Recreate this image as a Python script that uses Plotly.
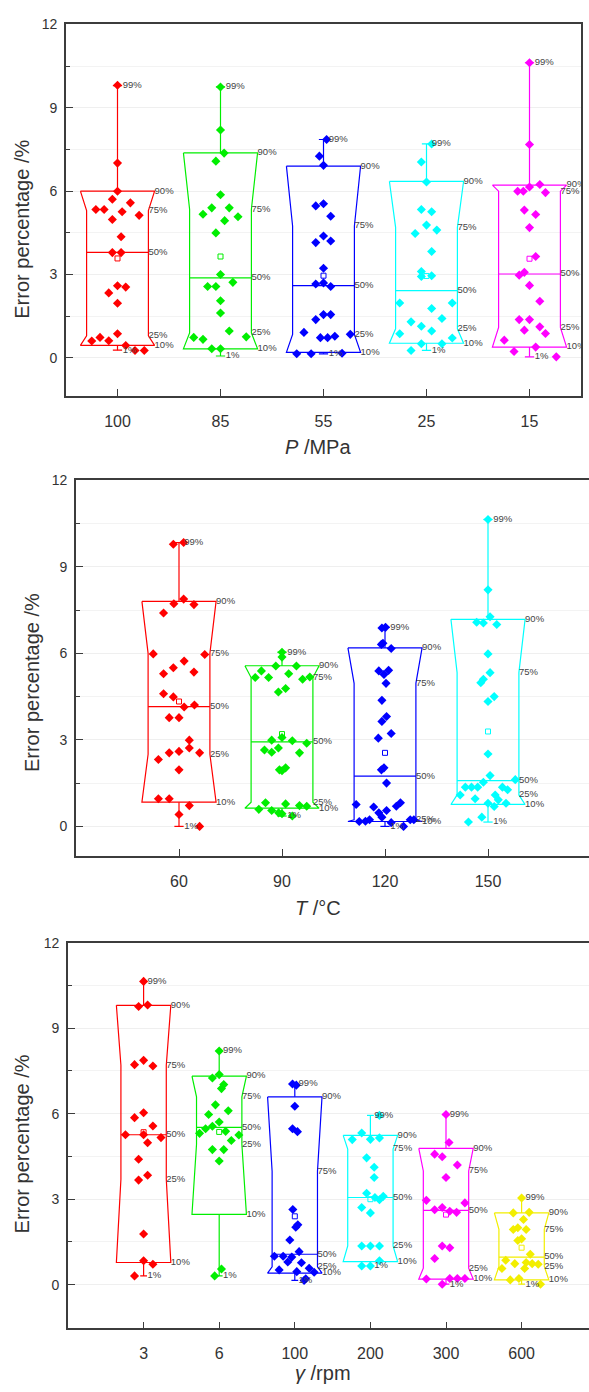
import plotly.graph_objects as go

W, H = 589, 1392
FONT = "Arial, Liberation Sans, sans-serif"

# ---------------- Panel 1 : P / MPa ----------------
P_CATS = ["100", "85", "55", "25", "15"]
P_COLORS = ["#FF0000", "#00EE00", "#0000FF", "#00FFFF", "#FF00FF"]
P_P1 = [0.28, 0.07, 0.15, 0.27, 0.04]
P_P10 = [0.45, 0.33, 0.20, 0.53, 0.39]
P_P25 = [0.80, 0.90, 0.85, 1.05, 1.10]
P_P50 = [3.80, 2.88, 2.60, 2.42, 3.02]
P_P75 = [5.30, 5.35, 4.75, 4.70, 6.00]
P_P90 = [6.00, 7.38, 6.90, 6.35, 6.22]
P_P99 = [9.80, 9.75, 7.86, 7.70, 10.62]
P_MEAN = [3.58, 3.65, 2.96, 2.95, 3.57]

P100_Y = [9.81, 7.01, 6.0, 5.71, 5.34, 5.34, 5.58, 5.26, 4.98, 5.13, 4.36, 3.79, 3.79, 2.6, 2.55, 2.34, 1.97, 0.87, 0.61, 0.74, 0.62, 0.45, 0.27, 0.27]
P100_DX = [0, 0, 0, -0.05, -0.21, -0.13, 0.125, 0.045, -0.05, 0.21, 0.035, -0.05, 0.035, 0, 0.08, -0.085, 0, 0, -0.25, -0.17, -0.085, 0.08, 0.17, 0.26]
P85_Y = [9.75, 8.2, 7.37, 7.08, 5.87, 5.4, 5.17, 5.4, 5.08, 4.94, 4.5, 3.0, 2.57, 2.57, 2.72, 2.06, 1.62, 0.97, 0.74, 0.67, 0.76, 0.33, 0.33]
P85_DX = [0, 0, 0.035, -0.045, 0, -0.085, -0.17, 0.085, 0.17, 0.04, -0.045, 0, -0.125, -0.045, 0.12, 0, 0, 0.085, -0.26, -0.17, 0.25, -0.085, 0]
P55_Y = [7.86, 7.26, 6.93, 5.47, 5.55, 5.1, 4.15, 4.39, 4.21, 3.23, 2.66, 2.7, 2.57, 1.38, 1.56, 1.56, 0.92, 0.73, 0.73, 0.78, 0.85, 0.15, 0.15, 0.17]
P55_DX = [0.03, -0.04, 0, -0.075, 0, 0.07, -0.075, 0, 0.07, 0, -0.075, 0, 0.07, -0.075, 0, 0.07, -0.19, -0.03, 0.04, 0.11, 0.26, -0.26, -0.12, 0.18]
P25_Y = [7.7, 7.05, 6.33, 5.34, 5.26, 4.78, 4.48, 4.6, 3.83, 3.11, 2.93, 2.96, 1.98, 1.98, 1.78, 1.3, 1.42, 1.14, 0.97, 0.87, 0.72, 0.51, 0.51, 0.27]
P25_DX = [0.05, -0.05, 0, -0.05, 0.05, 0, -0.11, 0.1, 0.05, -0.05, -0.05, 0.05, -0.26, 0.25, 0.05, -0.15, 0.15, -0.05, 0.05, -0.26, 0.25, -0.05, 0.15, -0.15]
P15_Y = [10.62, 7.68, 6.15, 6.24, 6.0, 6.0, 5.95, 5.32, 5.16, 4.69, 3.65, 2.98, 3.08, 2.61, 2.04, 1.38, 1.38, 1.0, 1.12, 0.88, 0.64, 0.23, 0.39, 0.04]
P15_DX = [0, 0, 0, 0.1, -0.115, -0.06, 0.155, -0.05, 0.06, 0, 0.06, -0.1, -0.05, 0, 0.1, -0.1, 0, -0.05, 0.1, 0.155, -0.245, -0.15, 0.06, 0.26]

# ---------------- Panel 2 : T / °C ----------------
T_CATS = ["60", "90", "120", "150"]
T_COLORS = ["#FF0000", "#00EE00", "#0000FF", "#00FFFF"]
T_P1 = [0.0, 0.36, 0.0, 0.15]
T_P10 = [0.84, 0.63, 0.17, 0.76]
T_P25 = [2.50, 0.84, 0.23, 1.09]
T_P50 = [4.15, 2.93, 1.74, 1.59]
T_P75 = [6.00, 5.16, 4.96, 5.33]
T_P90 = [7.80, 5.57, 6.19, 7.18]
T_P99 = [9.84, 6.04, 6.90, 10.64]
T_MEAN = [4.33, 3.20, 2.55, 3.29]

T60_Y = [9.78, 9.84, 7.72, 7.88, 7.69, 7.4, 5.98, 5.96, 5.29, 5.5, 5.73, 5.35, 4.6, 4.49, 4.14, 4.21, 3.77, 3.77, 2.99, 2.55, 2.6, 2.72, 2.55, 2.32, 1.96, 0.96, 0.96, 0.72, 0.41, 0.0]
T60_DX = [-0.055, 0.045, -0.05, 0.045, 0.145, -0.15, -0.25, 0.25, -0.15, -0.055, 0.05, 0.145, -0.15, -0.055, 0.05, 0.15, -0.095, 0, 0.1, -0.095, 0, 0.1, 0.2, -0.2, 0, -0.2, -0.095, 0.1, 0, 0.2]
T90_Y = [6.04, 5.87, 5.16, 5.39, 5.16, 5.56, 5.29, 5.56, 5.1, 5.18, 4.66, 4.78, 3.08, 2.99, 2.97, 2.88, 2.65, 2.57, 2.72, 2.55, 1.93, 2.03, 1.96, 0.59, 0.82, 0.55, 0.47, 0.44, 0.78, 0.72, 0.7, 0.36]
T90_DX = [0, 0, -0.26, -0.2, -0.13, -0.06, 0.065, 0.14, 0.2, 0.27, -0.035, 0.035, 0, -0.1, 0.1, 0.24, -0.17, -0.1, -0.035, 0.17, 0, 0.035, -0.025, -0.225, -0.16, -0.1, -0.033, 0, 0.035, 0.17, 0.24, 0.1]
T120_Y = [6.9, 6.88, 6.31, 6.35, 6.17, 5.39, 5.41, 5.27, 4.96, 4.37, 3.64, 3.81, 3.22, 3.06, 1.96, 2.03, 1.5, 0.76, 0.67, 0.47, 0.32, 0.55, 0.7, 0.82, 0.17, 0.18, 0.23, 0.13, 0.0, 0.23, 0.23]
T120_DX = [0.005, -0.03, -0.035, -0.02, 0.06, -0.06, 0.035, -0.01, 0.01, -0.03, -0.03, 0.015, 0.06, -0.065, -0.035, -0.01, 0.015, -0.28, -0.11, -0.06, -0.03, 0.015, 0.11, 0.15, -0.25, -0.19, -0.15, 0.06, 0.18, 0.245, 0.28]
T150_Y = [10.64, 8.2, 7.27, 7.05, 7.08, 7.0, 5.98, 5.33, 5.1, 4.98, 4.33, 4.5, 2.51, 1.76, 1.53, 1.62, 1.36, 1.36, 1.36, 1.36, 1.27, 1.09, 0.96, 1.09, 0.92, 0.8, 0.8, 0.69, 0.32, 0.15]
T150_DX = [0, 0, 0.02, -0.045, -0.11, 0.085, 0, 0.02, -0.045, -0.07, 0, 0.06, 0, 0.02, -0.045, 0.265, -0.22, -0.16, -0.1, 0.14, 0.19, -0.27, -0.125, 0.07, 0.1, 0, 0.175, 0.06, -0.06, -0.19]

# ---------------- Panel 3 : gamma / rpm ----------------
G_CATS = ["3", "6", "100", "200", "300", "600"]
G_COLORS = ["#FF0000", "#00EE00", "#0000FF", "#00FFFF", "#FF00FF", "#F2EE00"]
G_P1 = [0.31, 0.31, 0.15, 0.66, 0.02, 0.02]
G_P10 = [0.78, 2.47, 0.41, 0.81, 0.20, 0.17]
G_P25 = [3.70, 4.93, 0.63, 1.36, 0.58, 0.64]
G_P50 = [5.26, 5.52, 1.07, 3.06, 2.61, 0.97]
G_P75 = [7.70, 6.59, 3.98, 4.76, 3.99, 1.94]
G_P90 = [9.80, 7.32, 6.59, 5.24, 4.78, 2.52]
G_P99 = [10.64, 8.20, 7.06, 5.94, 5.97, 3.04]
G_MEAN = [5.35, 5.36, 2.40, 3.00, 2.46, 1.30]

G3_Y = [10.64, 9.76, 9.81, 7.72, 7.87, 7.67, 5.86, 6.03, 5.57, 5.26, 5.26, 5.16, 4.98, 4.4, 3.84, 3.67, 1.78, 0.84, 0.72, 0.31]
G3_DX = [0, -0.066, 0.053, -0.12, 0, 0.123, -0.12, 0, 0.123, -0.24, 0, 0.23, 0.053, -0.066, 0.053, -0.066, 0, 0, 0.123, -0.12]
G6_Y = [8.2, 7.25, 7.37, 7.02, 6.88, 6.31, 6.1, 5.97, 5.71, 5.56, 5.47, 5.31, 5.38, 5.25, 5.06, 4.74, 4.74, 4.34, 0.55, 0.31]
G6_DX = [0, -0.09, 0, 0.06, 0.03, -0.05, 0.12, -0.14, 0, -0.09, -0.18, -0.26, 0.085, 0.26, 0.16, -0.09, 0.06, 0, 0.03, -0.06]
G100_Y = [7.04, 7.0, 6.26, 5.47, 5.37, 2.64, 2.02, 2.1, 1.57, 1.16, 1.0, 1.0, 0.97, 0.8, 0.77, 0.52, 0.46, 0.58, 0.44, 0.21, 0.15]
G100_DX = [-0.03, 0.02, 0, -0.03, 0.035, -0.026, 0.013, 0.04, -0.066, 0.057, -0.27, -0.154, -0.04, -0.093, 0.088, -0.207, 0.026, 0.19, 0.256, 0.145, 0.123]
G200_Y = [5.94, 5.09, 5.32, 5.1, 5.15, 4.45, 4.12, 3.76, 3.21, 2.71, 2.52, 3.06, 3.1, 2.98, 1.36, 1.36, 1.36, 0.66, 0.66, 0.84]
G200_DX = [0.12, -0.24, -0.115, 0, 0.12, -0.05, 0.05, 0.05, -0.05, -0.115, 0, 0.06, 0.17, 0.12, -0.115, 0, 0.12, -0.115, 0, 0.12]
G300_Y = [5.97, 4.99, 4.58, 4.49, 4.2, 3.76, 2.96, 2.87, 2.63, 2.71, 2.58, 2.54, 1.36, 1.3, 0.92, 0.2, 0.02, 0.22, 0.22, 0.22]
G300_DX = [0, 0.04, -0.15, -0.05, 0.15, 0, -0.26, 0.25, -0.15, -0.05, 0.05, 0.14, -0.05, 0.05, -0.15, -0.26, -0.05, 0.05, 0.15, 0.25]
G600_Y = [3.04, 2.52, 2.54, 2.29, 1.94, 2.0, 1.94, 1.55, 1.61, 1.07, 0.86, 0.74, 0.78, 0.74, 0.72, 0.57, 0.57, 0.17, 0.22, 0.02]
G600_DX = [0, -0.11, 0.1, 0.025, -0.11, -0.05, 0.06, -0.05, 0, 0.115, -0.21, -0.09, 0.06, 0.14, 0.22, -0.26, 0.04, -0.15, -0.035, 0.25]

PCT_LABELS = ["99%", "90%", "75%", "50%", "25%", "10%", "1%"]

fig = go.Figure()

WO, WI, CAP = 0.36, 0.30, 0.045


def add_panel(xa, ya, cats, colors, p1, p10, p25, p50, p75, p90, p99, means, ys, dxs):
    for i in range(len(cats)):
        cx = i + 1
        col = colors[i]
        xs = [cx - WO, cx + WO, cx + WI, cx + WI, cx + WO, cx - WO, cx - WI, cx - WI, cx - WO, None,
              cx - WI, cx + WI, None,
              cx, cx, None, cx - CAP, cx + CAP, None,
              cx, cx, None, cx - CAP, cx + CAP]
        yy = [p90[i], p90[i], p75[i], p25[i], p10[i], p10[i], p25[i], p75[i], p90[i], None,
              p50[i], p50[i], None,
              p90[i], p99[i], None, p99[i], p99[i], None,
              p10[i], p1[i], None, p1[i], p1[i]]
        fig.add_trace(go.Scatter(x=xs, y=yy, mode="lines", xaxis=xa, yaxis=ya,
                                 line=dict(color=col, width=1.2), hoverinfo="skip"))
        fig.add_trace(go.Scatter(x=[cx + d for d in dxs[i]], y=ys[i], mode="markers",
                                 xaxis=xa, yaxis=ya,
                                 marker=dict(symbol="diamond", size=7, color=col, line=dict(width=0))))
        fig.add_trace(go.Scatter(x=[cx], y=[means[i]], mode="markers", xaxis=xa, yaxis=ya,
                                 marker=dict(symbol="square-open", size=5, color=col, line=dict(width=1))))
        lx = [cx + 0.05, cx + WO, cx + WI, cx + WI, cx + WI, cx + WO, cx + 0.05]
        ly = [p99[i], p90[i], p75[i], p50[i], p25[i], p10[i], p1[i]]
        fig.add_trace(go.Scatter(x=lx, y=ly, mode="text", text=PCT_LABELS, xaxis=xa, yaxis=ya,
                                 textposition="middle right", cliponaxis=True,
                                 textfont=dict(family=FONT, size=9.5, color="#444444")))


add_panel("x", "y", P_CATS, P_COLORS, P_P1, P_P10, P_P25, P_P50, P_P75, P_P90, P_P99, P_MEAN,
          [P100_Y, P85_Y, P55_Y, P25_Y, P15_Y], [P100_DX, P85_DX, P55_DX, P25_DX, P15_DX])
add_panel("x2", "y2", T_CATS, T_COLORS, T_P1, T_P10, T_P25, T_P50, T_P75, T_P90, T_P99, T_MEAN,
          [T60_Y, T90_Y, T120_Y, T150_Y], [T60_DX, T90_DX, T120_DX, T150_DX])
add_panel("x3", "y3", G_CATS, G_COLORS, G_P1, G_P10, G_P25, G_P50, G_P75, G_P90, G_P99, G_MEAN,
          [G3_Y, G6_Y, G100_Y, G200_Y, G300_Y, G600_Y],
          [G3_DX, G6_DX, G100_DX, G200_DX, G300_DX, G600_DX])

AX = "#3c3c3c"


def xax(domain, rng, cats, anchor):
    return dict(domain=domain, range=rng, anchor=anchor, tickmode="array",
                tickvals=list(range(1, len(cats) + 1)), ticktext=cats,
                ticks="inside", ticklen=7, tickwidth=1.3, tickcolor=AX,
                showline=True, linecolor=AX, linewidth=1.6, mirror=True,
                showgrid=False, zeroline=False, ticklabelstandoff=10,
                tickfont=dict(family=FONT, size=16, color="#333333"))


def yax(domain, rng, anchor, mirror):
    return dict(domain=domain, range=rng, anchor=anchor, tickmode="array",
                tickvals=[0, 3, 6, 9, 12], ticks="inside", ticklen=7, tickwidth=1.3, tickcolor=AX,
                showline=True, linecolor=AX, linewidth=1.6, mirror=mirror,
                showgrid=True, gridcolor="#EFEFEF", gridwidth=1, zeroline=False,
                minor=dict(tickvals=[1.5, 4.5, 7.5, 10.5], ticks="inside", ticklen=4,
                           tickcolor=AX, showgrid=True, gridcolor="#F3F3F3"),
                ticklabelstandoff=4,
                tickfont=dict(family=FONT, size=14, color="#333333"))


def fy(py):
    return 1 - py / H


fig.update_layout(
    width=W, height=H, margin=dict(l=0, r=0, t=0, b=0),
    paper_bgcolor="white", plot_bgcolor="white", showlegend=False,
    xaxis=xax([66 / W, 581 / W], [0.5, 5.5], P_CATS, "y"),
    yaxis=yax([fy(390), fy(16.5)], [-1.36, 12], "x", True),
    xaxis2=xax([76 / W, 1.0], [0, (W - 76) / 103.0], T_CATS, "y2"),
    yaxis2=yax([fy(853), fy(475)], [-1.03, 12], "x2", False),
    xaxis3=xax([68 / W, 1.0], [0, (W - 68) / 75.6], G_CATS, "y3"),
    yaxis3=yax([fy(1328), fy(940)], [-1.53, 12], "x3", False),
)

titles = [
    ("Error percentage /%", 22, 223, -90),
    ("Error percentage /%", 32, 679, -90),
    ("Error percentage /%", 22, 1143, -90),
    ("<i>P</i> /MPa", 318, 442, 0),
    ("<i>T</i> /°C", 318, 905, 0),
    ("<i>γ</i> /rpm", 323, 1373, 0),
]
for txt, px, py, ang in titles:
    fig.add_annotation(text=txt, xref="paper", yref="paper", x=px / W, y=fy(py),
                       xanchor="center", yanchor="middle", showarrow=False, textangle=ang,
                       font=dict(family=FONT, size=20, color="#333333"))

fig.write_html("out.html", config={"displayModeBar": False},
               post_script="document.body.style.margin='0';document.body.style.overflow='hidden';")
